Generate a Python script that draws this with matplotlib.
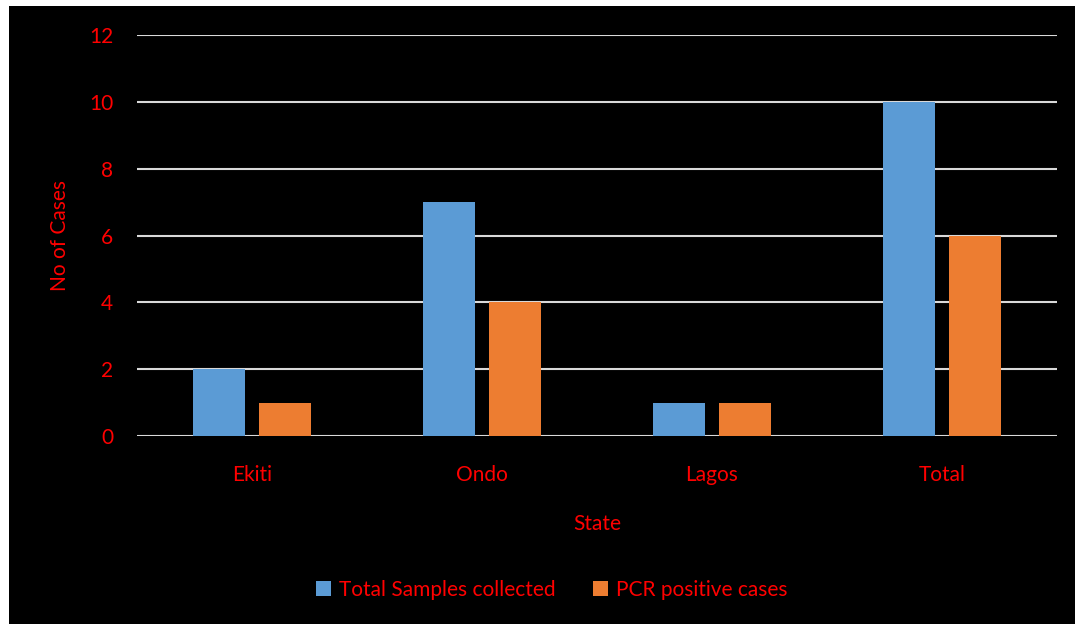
import matplotlib.pyplot as plt
import numpy as np
from matplotlib.patches import Rectangle

states = ["Ekiti", "Ondo", "Lagos", "Total"]
samples_collected = [2, 7, 1, 10]
pcr_positive = [1, 4, 1, 6]
y_ticks = [0, 2, 4, 6, 8, 10, 12]

RED = "#ff0000"
BLUE = "#5b9bd5"
ORANGE = "#ed7d31"

plt.rcParams["font.family"] = ["Lato", "DejaVu Sans"]

fig = plt.figure(figsize=(10.75, 6.24), dpi=100)
fig.patch.set_facecolor("white")
fig.patches.append(Rectangle((9 / 1075, 0), 1066 / 1075, 618 / 624,
                             transform=fig.transFigure, facecolor="black",
                             edgecolor="none", zorder=-10))

ax = fig.add_axes([137 / 1075, (624 - 436) / 624, 920 / 1075, 401 / 624])
ax.set_facecolor("black")

x = np.arange(len(states))
width = 0.226
offset = 0.144
ax.bar(x - offset, samples_collected, width, color=BLUE, label="Total Samples collected", zorder=3)
ax.bar(x + offset, pcr_positive, width, color=ORANGE, label="PCR positive cases", zorder=3)

ax.set_xlim(-0.5, len(states) - 0.5)
ax.set_ylim(0, 12)
ax.set_yticks(y_ticks)
ax.set_xticks(x)
ax.set_xticklabels(states)

ax.grid(axis="y", color="#d9d9d9", linewidth=1.5, zorder=1)
ax.set_axisbelow(True)
for side in ["top", "right", "left", "bottom"]:
    ax.spines[side].set_visible(False)

ax.tick_params(axis="both", length=0, colors=RED, labelsize=15)
ax.tick_params(axis="y", pad=17)
ax.tick_params(axis="x", pad=21)

ax.set_ylabel("No of Cases", color=RED, fontsize=15, labelpad=14)
ax.set_xlabel("State", color=RED, fontsize=15, labelpad=21)

leg = fig.legend(loc="center", bbox_to_anchor=(552 / 1075, (624 - 590) / 624),
                 ncol=2, frameon=False, fontsize=15, handlelength=0.7,
                 handleheight=0.7, columnspacing=1.8, handletextpad=0.4)
for text in leg.get_texts():
    text.set_color(RED)

fig.savefig("out.png", dpi=100, facecolor=fig.get_facecolor())
